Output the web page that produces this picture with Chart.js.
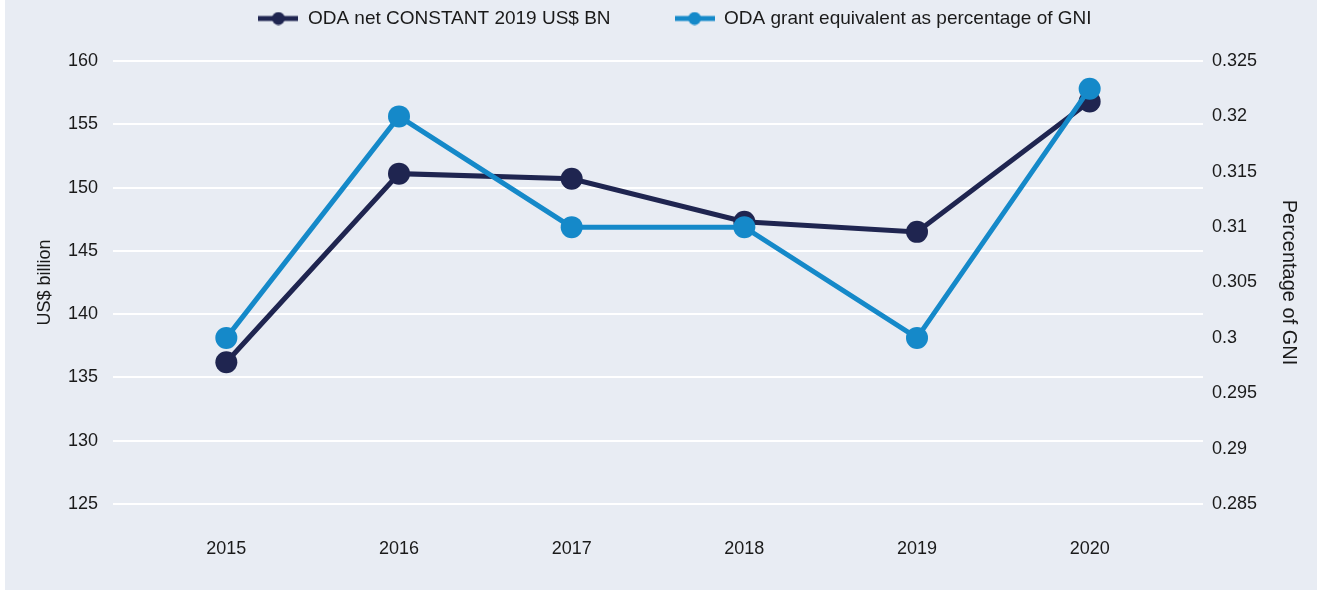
<!DOCTYPE html>
<html>
<head>
<meta charset="utf-8">
<script src="https://cdn.jsdelivr.net/npm/chart.js@4/dist/chart.umd.min.js"></script>
<style>
  html, body { margin: 0; padding: 0; background: #ffffff; }
  #wrap { position: absolute; left: 5px; top: 0; width: 1312px; height: 590px; background: #e8ecf3; }
</style>
</head>
<body>
<div id="wrap"><canvas id="chart" width="1312" height="590"></canvas></div>
<script>
const years = ['2015', '2016', '2017', '2018', '2019', '2020'];
const odaNet = [136.2, 151.1, 150.7, 147.3, 146.5, 156.8];
const odaGni = [0.300, 0.320, 0.310, 0.310, 0.300, 0.3225];
const leftTicks = [125, 160, 5];
const rightTicks = [0.285, 0.325, 0.005];

const NAVY = '#1f2550';
const BLUE = '#1589c9';
const TEXT = '#1a1a1a';

// legend marker: short thick line with a dot in the middle
function legendMarker(color) {
    const c = document.createElement('canvas');
    c.width = 40; c.height = 14;
    const g = c.getContext('2d');
    g.strokeStyle = color;
    g.lineWidth = 5;
    g.beginPath(); g.moveTo(0, 7); g.lineTo(40, 7); g.stroke();
    g.fillStyle = color;
    g.beginPath(); g.arc(20, 7, 6.5, 0, Math.PI * 2); g.fill();
    return c;
}
const markers = [legendMarker(NAVY), legendMarker(BLUE)];

// push the plot a bit further below the legend, nudge legend right
const legendGap = {
    id: 'legendGap',
    beforeUpdate(chart) {
        const lg = chart.legend;
        if (lg && !lg._gapWrapped) {
            const fit = lg.fit;
            const draw = lg.draw;
            lg.fit = function () { fit.call(this); this.height += 23; };
            lg.draw = function () {
                this.ctx.save();
                this.ctx.translate(14, 0);
                draw.apply(this, arguments);
                this.ctx.restore();
            };
            lg._gapWrapped = true;
        }
    }
};

Chart.defaults.font.family = '"Liberation Sans", Arial, sans-serif';
Chart.defaults.font.size = 18;
Chart.defaults.color = TEXT;

new Chart(document.getElementById('chart'), {
    type: 'line',
    data: {
        labels: years,
        datasets: [{
            label: 'ODA net CONSTANT 2019 US$ BN',
            data: odaNet,
            yAxisID: 'y',
            borderColor: NAVY,
            backgroundColor: NAVY,
            borderWidth: 5,
            pointRadius: 11,
            pointHoverRadius: 11,
            pointBorderWidth: 0,
            tension: 0,
            order: 2,
        }, {
            label: 'ODA grant equivalent as percentage of GNI',
            data: odaGni,
            yAxisID: 'y1',
            borderColor: BLUE,
            backgroundColor: BLUE,
            borderWidth: 5,
            pointRadius: 11,
            pointHoverRadius: 11,
            pointBorderWidth: 0,
            tension: 0,
            order: 1,
        }]
    },
    plugins: [legendGap],
    options: {
        responsive: false,
        animation: false,
        layout: { padding: { top: -55, left: 0, right: 0, bottom: 0 } },
        plugins: {
            tooltip: { enabled: false },
            legend: {
                position: 'top',
                labels: {
                    color: TEXT,
                    usePointStyle: true,
                    pointStyleWidth: 40,
                    padding: 64,
                    font: { size: 19 },
                    generateLabels: (chart) => chart.data.datasets.map((ds, i) => ({
                        text: ds.label,
                        pointStyle: markers[i],
                        fillStyle: ds.borderColor,
                        strokeStyle: ds.borderColor,
                        lineWidth: 0,
                        fontColor: TEXT,
                        datasetIndex: i,
                        hidden: false,
                    })),
                },
            },
        },
        scales: {
            x: {
                offset: true,
                grid: { display: false },
                border: { display: false },
                ticks: { color: TEXT, padding: 26, font: { size: 18 } },
                afterFit: (s) => { s.height = 86; },
            },
            y: {
                position: 'left',
                min: leftTicks[0],
                max: leftTicks[1],
                ticks: { stepSize: leftTicks[2], color: TEXT, padding: 15, font: { size: 18 } },
                grid: { color: '#ffffff', lineWidth: 2, tickLength: 27, tickColor: '#ffffff' },
                border: { display: false },
                title: { display: true, text: 'US$ billion', color: TEXT, font: { size: 18 }, padding: { top: 29 } },
                afterFit: (s) => { s.width = 135; },
            },
            // same range as the left axis, only there to carry the gridlines past the plot on the right
            yGrid: {
                position: 'right',
                weight: 0,
                min: leftTicks[0],
                max: leftTicks[1],
                ticks: { stepSize: leftTicks[2], display: false },
                grid: { drawOnChartArea: false, color: '#ffffff', lineWidth: 2, tickLength: 27, tickColor: '#ffffff' },
                border: { display: false },
                afterFit: (s) => { s.width = 27; },
            },
            y1: {
                position: 'right',
                weight: 1,
                min: rightTicks[0],
                max: rightTicks[1],
                ticks: {
                    stepSize: rightTicks[2],
                    color: TEXT,
                    padding: 9,
                    font: { size: 18 },
                    callback: (v) => String(+v.toFixed(3)),
                },
                grid: { display: false, drawTicks: false },
                border: { display: false },
                title: { display: true, text: 'Percentage of GNI', color: TEXT, font: { size: 20 }, padding: { top: 16 } },
                afterFit: (s) => { s.width = 114; },
            },
        },
    },
});
</script>
</body>
</html>
